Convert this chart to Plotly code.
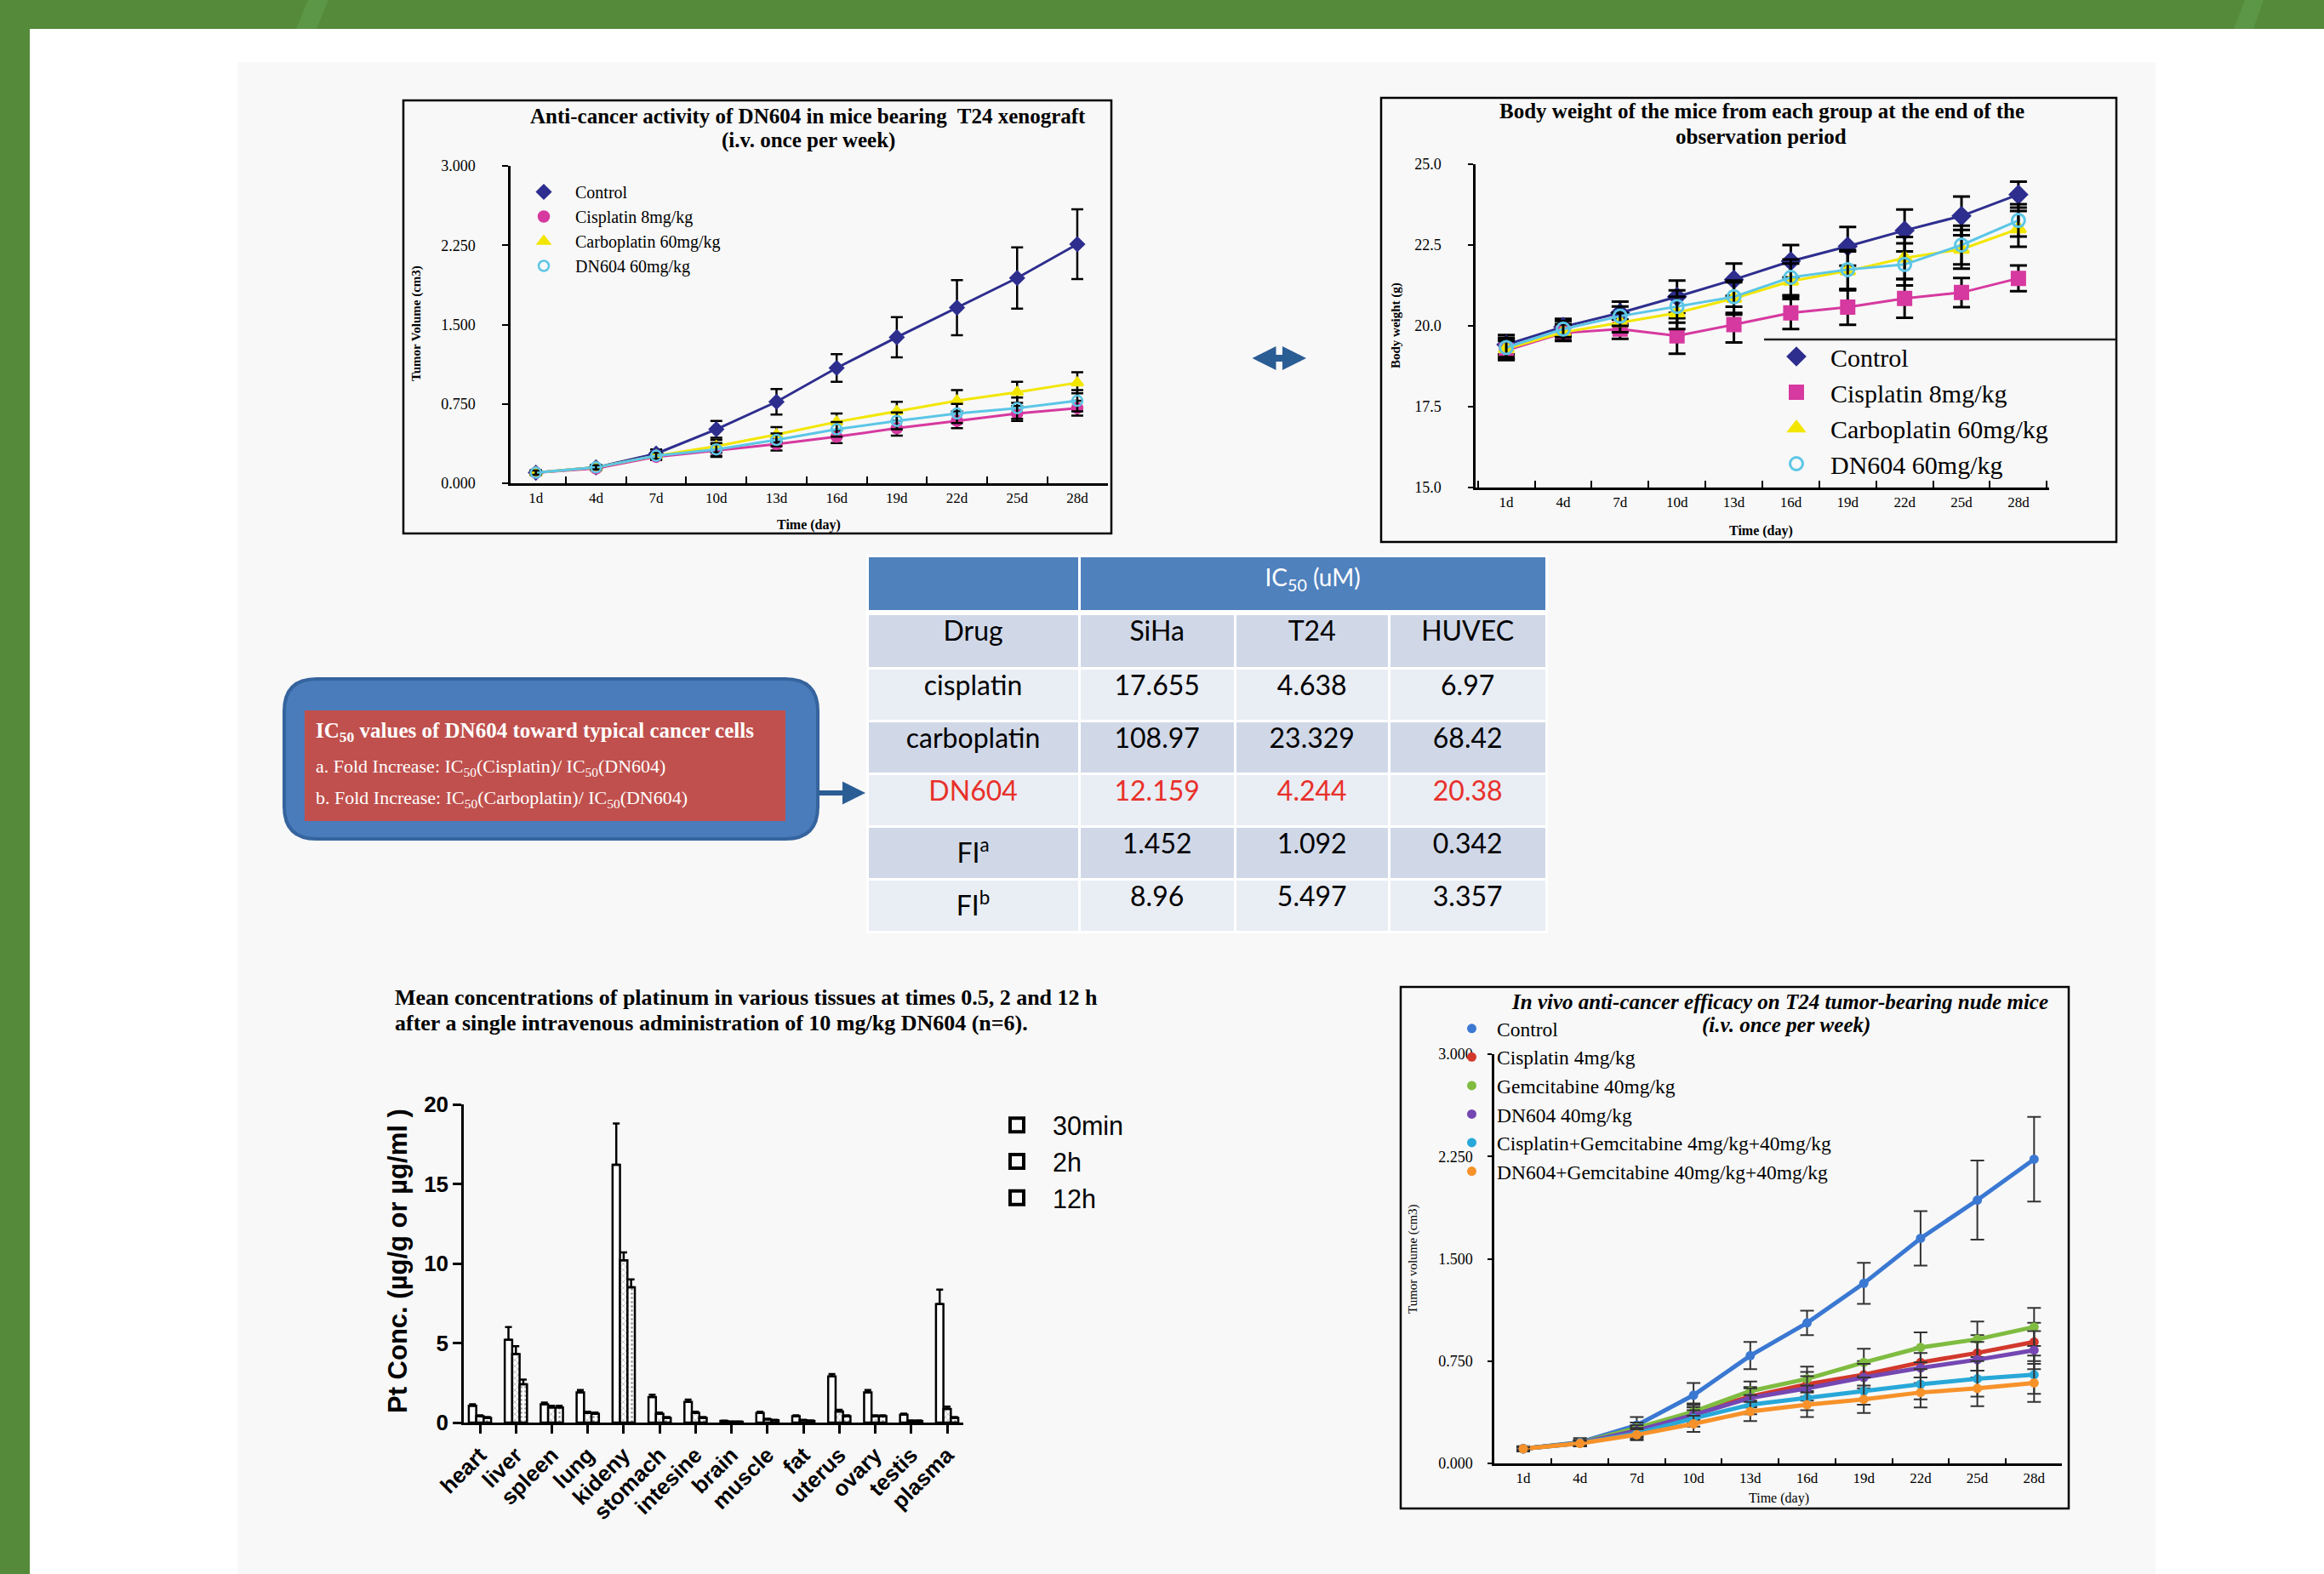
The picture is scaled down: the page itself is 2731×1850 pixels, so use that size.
import plotly.graph_objects as go

W, H = 2731, 1850


def X(p):
    return p / W


def Y(p):
    return 1 - p / H


def DX(a, b):
    return [X(a), X(b)]


def DY(top, bot):
    return [Y(bot), Y(top)]


SERIF = "Liberation Serif"
SANS = "Liberation Sans"

# ---------------- data ----------------
days = ["1d", "4d", "7d", "10d", "13d", "16d", "19d", "22d", "25d", "28d"]

# Top-left: tumor volume (cm3), T24 xenograft
tl_names = ["Control", "Cisplatin 8mg/kg", "Carboplatin 60mg/kg", "DN604 60mg/kg"]
tl_control = [0.10, 0.15, 0.28, 0.51, 0.77, 1.09, 1.38, 1.66, 1.94, 2.26]
tl_cis = [0.10, 0.14, 0.25, 0.31, 0.37, 0.44, 0.52, 0.59, 0.66, 0.71]
tl_carbo = [0.10, 0.15, 0.26, 0.35, 0.46, 0.58, 0.68, 0.78, 0.86, 0.95]
tl_dn = [0.10, 0.15, 0.26, 0.32, 0.41, 0.51, 0.59, 0.66, 0.71, 0.78]
tl_control_err = [0.02, 0.02, 0.04, 0.08, 0.12, 0.13, 0.19, 0.26, 0.29, 0.33]
tl_cis_err = [0.02, 0.02, 0.03, 0.06, 0.06, 0.06, 0.07, 0.07, 0.07, 0.07]
tl_carbo_err = [0.02, 0.02, 0.03, 0.06, 0.07, 0.08, 0.09, 0.10, 0.10, 0.10]
tl_dn_err = [0.02, 0.02, 0.03, 0.06, 0.06, 0.07, 0.08, 0.09, 0.10, 0.10]
tl_yticks = [0, 0.75, 1.5, 2.25, 3.0]

# Top-right: body weight (g)
bw_control = [19.42, 19.97, 20.40, 20.90, 21.43, 22.00, 22.46, 22.95, 23.40, 24.06]
bw_cis = [19.24, 19.78, 19.90, 19.69, 20.04, 20.40, 20.58, 20.85, 21.03, 21.47]
bw_carbo = [19.29, 19.80, 20.10, 20.40, 20.85, 21.38, 21.70, 22.10, 22.37, 23.00]
bw_dn = [19.33, 19.90, 20.30, 20.60, 20.90, 21.50, 21.74, 21.90, 22.50, 23.26]
bw_control_err = [0.30, 0.25, 0.35, 0.50, 0.50, 0.50, 0.60, 0.65, 0.60, 0.40]
bw_cis_err = [0.30, 0.25, 0.30, 0.55, 0.55, 0.50, 0.55, 0.60, 0.45, 0.40]
bw_carbo_err = [0.30, 0.25, 0.30, 0.50, 0.50, 0.55, 0.60, 0.65, 0.60, 0.55]
bw_dn_err = [0.30, 0.25, 0.30, 0.50, 0.50, 0.55, 0.60, 0.65, 0.60, 0.50]
bw_yticks = [15.0, 17.5, 20.0, 22.5, 25.0]

# Table: IC50 (uM)
tbl_cols = ["Drug", "SiHa", "T24", "HUVEC"]
tbl_drug = ["cisplatin", "carboplatin", "DN604", "FI<sup>a</sup>", "FI<sup>b</sup>"]
tbl_siha = ["17.655", "108.97", "12.159", "1.452", "8.96"]
tbl_t24 = ["4.638", "23.329", "4.244", "1.092", "5.497"]
tbl_huvec = ["6.97", "68.42", "20.38", "0.342", "3.357"]

# Bottom-left: Pt concentration by tissue
tissues = ["heart", "liver", "spleen", "lung", "kideny", "stomach", "intesine",
           "brain", "muscle", "fat", "uterus", "ovary", "testis", "plasma"]
pt_30min = [1.05, 5.2, 1.15, 1.9, 16.2, 1.6, 1.3, 0.10, 0.60, 0.40, 2.9, 1.9, 0.50, 7.45]
pt_2h = [0.40, 4.3, 0.95, 0.60, 10.2, 0.55, 0.60, 0.05, 0.20, 0.15, 0.70, 0.40, 0.10, 0.85]
pt_12h = [0.30, 2.4, 0.95, 0.55, 8.5, 0.30, 0.30, 0.05, 0.15, 0.10, 0.40, 0.40, 0.10, 0.30]
pt_30min_err = [0.10, 0.80, 0.10, 0.15, 2.60, 0.15, 0.15, 0.02, 0.08, 0.06, 0.15, 0.15, 0.06, 0.90]
pt_2h_err = [0.05, 0.50, 0.10, 0.08, 0.50, 0.08, 0.08, 0.02, 0.04, 0.03, 0.10, 0.06, 0.03, 0.15]
pt_12h_err = [0.05, 0.30, 0.10, 0.08, 0.50, 0.05, 0.05, 0.02, 0.03, 0.03, 0.06, 0.06, 0.03, 0.05]
pt_names = ["30min", "2h", "12h"]

# Bottom-right: tumor volume (cm3), combination therapy
br_names = ["Control", "Cisplatin 4mg/kg", "Gemcitabine 40mg/kg", "DN604 40mg/kg",
            "Cisplatin+Gemcitabine 4mg/kg+40mg/kg", "DN604+Gemcitabine 40mg/kg+40mg/kg"]
br_control = [0.107, 0.155, 0.28, 0.50, 0.79, 1.03, 1.32, 1.65, 1.93, 2.23]
br_cis = [0.107, 0.150, 0.23, 0.37, 0.49, 0.58, 0.65, 0.74, 0.81, 0.89]
br_gem = [0.107, 0.152, 0.26, 0.38, 0.53, 0.62, 0.74, 0.85, 0.91, 1.00]
br_dn = [0.107, 0.150, 0.24, 0.355, 0.48, 0.55, 0.63, 0.70, 0.76, 0.83]
br_cisgem = [0.107, 0.148, 0.22, 0.33, 0.43, 0.48, 0.53, 0.58, 0.62, 0.65]
br_dngem = [0.107, 0.146, 0.21, 0.29, 0.38, 0.43, 0.47, 0.52, 0.55, 0.59]
br_control_err = [0.02, 0.03, 0.06, 0.09, 0.10, 0.09, 0.15, 0.20, 0.29, 0.31]
br_other_err = [0.01, 0.02, 0.04, 0.06, 0.07, 0.09, 0.10, 0.11, 0.13, 0.14]
br_yticks = [0, 0.75, 1.5, 2.25, 3.0]

# ---------------- figure ----------------
fig = go.Figure()


def add_series(vals, name, err, col, lw, sym, msize, mline, ecol, ethick, ewidth, xa, ya, leg):
    # connecting line (no legend entry) + markers with error bars (legend entry)
    fig.add_trace(go.Scatter(x=days, y=vals, name=name, mode="lines",
                             line=dict(color=col, width=lw), showlegend=False,
                             xaxis=xa, yaxis=ya, hoverinfo="skip"))
    fig.add_trace(go.Scatter(x=days, y=vals, name=name, mode="markers",
                             marker=dict(symbol=sym, size=msize, color=col,
                                         line=dict(color=col, width=mline)),
                             error_y=dict(type="data", array=err, color=ecol,
                                          thickness=ethick, width=ewidth),
                             xaxis=xa, yaxis=ya, legend=leg))


# ---- top-left chart ----
tl_series = [
    (tl_names[0], tl_control, tl_control_err, "#2e2e8f", "diamond"),
    (tl_names[1], tl_cis, tl_cis_err, "#d6399f", "circle"),
    (tl_names[2], tl_carbo, tl_carbo_err, "#f2e600", "triangle-up"),
    (tl_names[3], tl_dn, tl_dn_err, "#5cc6e6", "circle-open"),
]
for name, vals, err, col, sym in tl_series:
    add_series(vals, name, err, col, 3, sym, 12, 2.5, "black", 2.5, 7, "x", "y", "legend")

# ---- top-right chart ----
bw_series = [
    (tl_names[0], bw_control, bw_control_err, "#2e2e8f", "diamond"),
    (tl_names[1], bw_cis, bw_cis_err, "#d6399f", "square"),
    (tl_names[2], bw_carbo, bw_carbo_err, "#f2e600", "triangle-up"),
    (tl_names[3], bw_dn, bw_dn_err, "#5cc6e6", "circle-open"),
]
for name, vals, err, col, sym in bw_series:
    add_series(vals, name, err, col, 3, sym, 15, 3, "black", 3, 10, "x2", "y2", "legend2")

# ---- bottom-left bar chart ----
bar_sets = [
    (pt_names[0], pt_30min, pt_30min_err, ""),
    (pt_names[1], pt_2h, pt_2h_err, "x"),
    (pt_names[2], pt_12h, pt_12h_err, "."),
]
for name, vals, err, pat in bar_sets:
    fig.add_trace(go.Bar(
        x=tissues, y=vals, name=name, showlegend=False,
        marker=dict(color="white", line=dict(color="black", width=2.5),
                    pattern=dict(shape=pat, fgcolor="#444", size=5, solidity=0.25)),
        error_y=dict(type="data", symmetric=False, array=err,
                     arrayminus=[0] * len(err), color="black", thickness=2.5, width=4),
        xaxis="x3", yaxis="y3",
    ))
# legend keys for the bar series (open boxes, as in the reference)
for name in pt_names:
    fig.add_trace(go.Scatter(
        x=[None], y=[None], name=name, mode="markers",
        marker=dict(symbol="square-open", size=16, color="black", line=dict(width=4)),
        xaxis="x3", yaxis="y3", legend="legend3",
    ))

# ---- bottom-right chart ----
br_series = [
    (br_names[0], br_control, br_control_err, "#3a78d2"),
    (br_names[1], br_cis, br_other_err, "#d2382c"),
    (br_names[2], br_gem, br_other_err, "#7fbc41"),
    (br_names[3], br_dn, br_other_err, "#7447b2"),
    (br_names[4], br_cisgem, br_other_err, "#28a8d8"),
    (br_names[5], br_dngem, br_other_err, "#f7922a"),
]
for name, vals, err, col in br_series:
    add_series(vals, name, err, col, 5, "circle", 11, 0, "#333333", 2, 8, "x4", "y4", "legend4")

# ---- tables ----
row_fill = ["#e9edf4", "#d0d8e8", "#e9edf4", "#d0d8e8", "#e9edf4"]
row_font = ["black", "black", "#e8302a", "black", "black"]
fig.add_trace(go.Table(
    domain=dict(x=DX(1019, 1817), y=DY(653, 721)),
    columnwidth=[143, 315],
    header=dict(values=["", "IC<sub>50</sub> (uM)"], fill_color="#4f81bd",
                font=dict(color="white", size=28, family="Lato"), height=65,
                line=dict(color="white", width=3), align="center"),
    cells=dict(values=[[], []]),
))
fig.add_trace(go.Table(
    domain=dict(x=DX(1019, 1817), y=DY(721, 1110)),
    columnwidth=[143, 105, 104, 106],
    header=dict(values=tbl_cols, fill_color="#d0d8e8",
                font=dict(color="black", size=32, family="Lato"), height=64,
                line=dict(color="white", width=3), align="center"),
    cells=dict(values=[tbl_drug, tbl_siha, tbl_t24, tbl_huvec],
               fill_color=[row_fill] * 4,
               font=dict(color=[row_font] * 4, size=32, family="Lato"),
               height=62, line=dict(color="white", width=3), align="center"),
))

# ---------------- axes ----------------
axis_common = dict(showgrid=False, zeroline=False, showline=True, linecolor="black",
                   linewidth=2.5, tickcolor="black", automargin=False)

fig.update_layout(
    xaxis=dict(domain=DX(600, 1302), anchor="y", type="category", range=[-0.42, 9.51],
               tickson="boundaries", ticks="inside", ticklen=8, tickwidth=2,
               tickfont=dict(family=SERIF, size=17, color="black"), **axis_common),
    yaxis=dict(domain=DY(195, 568), anchor="x", range=[0, 3], tickvals=tl_yticks,
               tickformat=".3f", ticks="outside", ticklen=7, tickwidth=2, ticklabelstandoff=28,
               tickfont=dict(family=SERIF, size=18, color="black"), **axis_common),
    xaxis2=dict(domain=DX(1734, 2408), anchor="y2", type="category", range=[-0.54, 9.54],
                tickson="boundaries", ticks="inside", ticklen=8, tickwidth=2,
                tickfont=dict(family=SERIF, size=17, color="black"), **axis_common),
    yaxis2=dict(domain=DY(193, 573), anchor="x2", range=[15, 25], tickvals=bw_yticks,
                tickformat=".1f", ticks="outside", ticklen=6, tickwidth=2, ticklabelstandoff=28,
                tickfont=dict(family=SERIF, size=18, color="black"), **axis_common),
    xaxis3=dict(domain=DX(545, 1132), anchor="y3", type="category", range=[-0.45, 13.45],
                tickangle=-45, ticks="outside", ticklen=10, tickwidth=2.5,
                tickfont=dict(family=SANS, size=26, color="black", weight="bold"),
                **axis_common),
    yaxis3=dict(domain=DY(1298, 1672), anchor="x3", range=[0, 20], tickvals=[0, 5, 10, 15, 20],
                ticks="outside", ticklen=10, tickwidth=2.5,
                tickfont=dict(family=SANS, size=26, color="black", weight="bold"),
                **axis_common),
    xaxis4=dict(domain=DX(1756, 2423), anchor="y4", type="category", range=[-0.51, 9.49],
                tickson="boundaries", ticks="inside", ticklen=6, tickwidth=1.5,
                tickfont=dict(family=SERIF, size=17, color="black"), **axis_common),
    yaxis4=dict(domain=DY(1239, 1720), anchor="x4", range=[0, 3], tickvals=br_yticks,
                tickformat=".3f", ticks="outside", ticklen=5, tickwidth=1.5, ticklabelstandoff=14,
                tickfont=dict(family=SERIF, size=18, color="black"), **axis_common),
)

# ---------------- legends ----------------
fig.update_layout(
    legend=dict(x=X(602), y=Y(206), xanchor="left", yanchor="top",
                font=dict(family=SERIF, size=20, color="black"),
                bgcolor="rgba(0,0,0,0)", tracegroupgap=0, itemwidth=64),
    legend2=dict(x=X(2071), y=Y(393), xanchor="left", yanchor="top",
                 font=dict(family=SERIF, size=30, color="black"),
                 bgcolor="rgba(0,0,0,0)", tracegroupgap=0, itemwidth=70),
    legend3=dict(x=X(1153), y=Y(1296), xanchor="left", yanchor="top",
                 font=dict(family=SANS, size=30.5, color="black"),
                 bgcolor="rgba(0,0,0,0)", tracegroupgap=0, itemwidth=74),
    legend4=dict(x=X(1700), y=Y(1187), xanchor="left", yanchor="top",
                 font=dict(family=SERIF, size=23.5, color="black"),
                 bgcolor="rgba(0,0,0,0)", tracegroupgap=0, itemwidth=49),
)


# ---------------- shapes ----------------
def rrect_path(x0, y0, x1, y1, r):
    pts = [
        ("M", [(x0 + r, y0)]), ("L", [(x1 - r, y0)]), ("Q", [(x1, y0), (x1, y0 + r)]),
        ("L", [(x1, y1 - r)]), ("Q", [(x1, y1), (x1 - r, y1)]), ("L", [(x0 + r, y1)]),
        ("Q", [(x0, y1), (x0, y1 - r)]), ("L", [(x0, y0 + r)]), ("Q", [(x0, y0), (x0 + r, y0)]),
    ]
    s = ""
    for cmd, coords in pts:
        s += cmd + " " + " ".join(f"{X(a):.5f},{Y(b):.5f}" for a, b in coords) + " "
    return s + "Z"


def poly_path(points):
    return "M " + " L ".join(f"{X(a):.5f},{Y(b):.5f}" for a, b in points) + " Z"


shapes = [
    dict(type="rect", xref="paper", yref="paper", x0=X(35), x1=X(W), y0=Y(H), y1=Y(34),
         fillcolor="white", line=dict(width=0), layer="below"),
    dict(type="path", xref="paper", yref="paper",
         path=poly_path([(348, 34), (362, 0), (386, 0), (372, 34)]),
         fillcolor="#62a052", opacity=0.55, line=dict(width=0), layer="below"),
    dict(type="path", xref="paper", yref="paper",
         path=poly_path([(2625, 34), (2638, 0), (2660, 0), (2648, 34)]),
         fillcolor="#62a052", opacity=0.55, line=dict(width=0), layer="below"),
    dict(type="rect", xref="paper", yref="paper", x0=X(279), x1=X(2533), y0=Y(H), y1=Y(73),
         fillcolor="#f8f8f8", line=dict(width=0), layer="below"),
    dict(type="rect", xref="paper", yref="paper", x0=X(474), x1=X(1306), y0=Y(627), y1=Y(118),
         line=dict(color="black", width=2.5), layer="below"),
    dict(type="rect", xref="paper", yref="paper", x0=X(1623), x1=X(2487), y0=Y(637), y1=Y(115),
         line=dict(color="black", width=2.5), layer="below"),
    dict(type="rect", xref="paper", yref="paper", x0=X(1646), x1=X(2431), y0=Y(1773), y1=Y(1160),
         line=dict(color="black", width=2.5), layer="below"),
    dict(type="line", xref="paper", yref="paper", x0=X(2073), x1=X(2487), y0=Y(399), y1=Y(399),
         line=dict(color="#222", width=2.5)),
    dict(type="path", xref="paper", yref="paper", path=rrect_path(334, 798, 961, 986, 38),
         fillcolor="#4a7cbc", line=dict(color="#35649e", width=4)),
    dict(type="rect", xref="paper", yref="paper", x0=X(358), x1=X(923), y0=Y(965), y1=Y(835),
         fillcolor="#c0504d", line=dict(width=0)),
]


# ---------------- annotations ----------------
def txt(text, x, y, size, family=SERIF, color="black", xanchor="center", yanchor="middle",
        angle=0):
    return dict(text=text, x=X(x), y=Y(y), xref="paper", yref="paper", showarrow=False,
                font=dict(family=family, size=size, color=color), xanchor=xanchor,
                yanchor=yanchor, textangle=angle)


annotations = [
    txt("<b>Anti-cancer activity of DN604 in mice bearing  T24 xenograft</b>", 950, 136, 25),
    txt("<b>(i.v. once per week)</b>", 950, 165, 25),
    txt("<b>Tumor Volume (cm3)</b>", 489, 380, 15, angle=-90),
    txt("<b>Time (day)</b>", 951, 617, 16),
    txt("<b>Body weight of the mice from each group at the end of the</b>", 2070, 131, 25),
    txt("<b>observation period</b>", 2069, 160, 25),
    txt("<b>Body weight (g)</b>", 1640, 383, 15, angle=-90),
    txt("<b>Time (day)</b>", 2069, 624, 16),
    txt("<b>Mean concentrations of platinum in various tissues at times 0.5, 2 and 12 h</b>",
        462, 1172, 26, xanchor="left"),
    txt("<b>after a single intravenous administration of 10 mg/kg DN604 (n=6).</b>",
        462, 1202, 26, xanchor="left"),
    txt("<b>Pt Conc. (µg/g or µg/ml )</b>", 467, 1482, 31, family=SANS, angle=-90),
    txt("<b><i>In vivo anti-cancer efficacy on T24 tumor-bearing nude mice</i></b>", 2091, 1177, 25),
    txt("<b><i>(i.v. once per week)</i></b>", 2099, 1205, 25),
    txt("Tumor volume (cm3)", 1660, 1480, 15, angle=-90),
    txt("Time (day)", 2090, 1761, 16),
    txt("<b>IC<sub>50</sub> values of DN604 toward typical cancer cells</b>", 369, 860, 25,
        color="white", xanchor="left"),
    txt("a. Fold Increase: IC<sub>50</sub>(Cisplatin)/ IC<sub>50</sub>(DN604)", 369, 902, 22,
        color="white", xanchor="left"),
    txt("b. Fold Increase: IC<sub>50</sub>(Carboplatin)/ IC<sub>50</sub>(DN604)", 369, 939, 22,
        color="white", xanchor="left"),
    dict(text="", xref="paper", yref="paper", axref="pixel", ayref="pixel",
         x=X(1535), y=Y(421), ax=-65, ay=0, showarrow=True,
         arrowhead=2, startarrowhead=2, arrowside="end+start", arrowsize=0.7,
         startarrowsize=0.7, arrowwidth=8, arrowcolor="#2b5d95"),
    dict(text="", xref="paper", yref="paper", axref="pixel", ayref="pixel",
         x=X(1017), y=Y(932), ax=-56, ay=0, showarrow=True,
         arrowhead=2, arrowsize=0.9, arrowwidth=6, arrowcolor="#2b5d95"),
]

fig.update_layout(
    width=W, height=H, margin=dict(l=0, r=0, t=0, b=0, pad=0, autoexpand=False),
    paper_bgcolor="#548a3a", plot_bgcolor="rgba(0,0,0,0)",
    barmode="group", bargap=0.38, bargroupgap=0.0,
    shapes=shapes, annotations=annotations, showlegend=True,
    font=dict(family=SERIF, color="black"),
)

fig.write_html("out.html", config={"displayModeBar": False},
               post_script="document.body.style.margin='0';document.body.style.overflow='hidden';")
